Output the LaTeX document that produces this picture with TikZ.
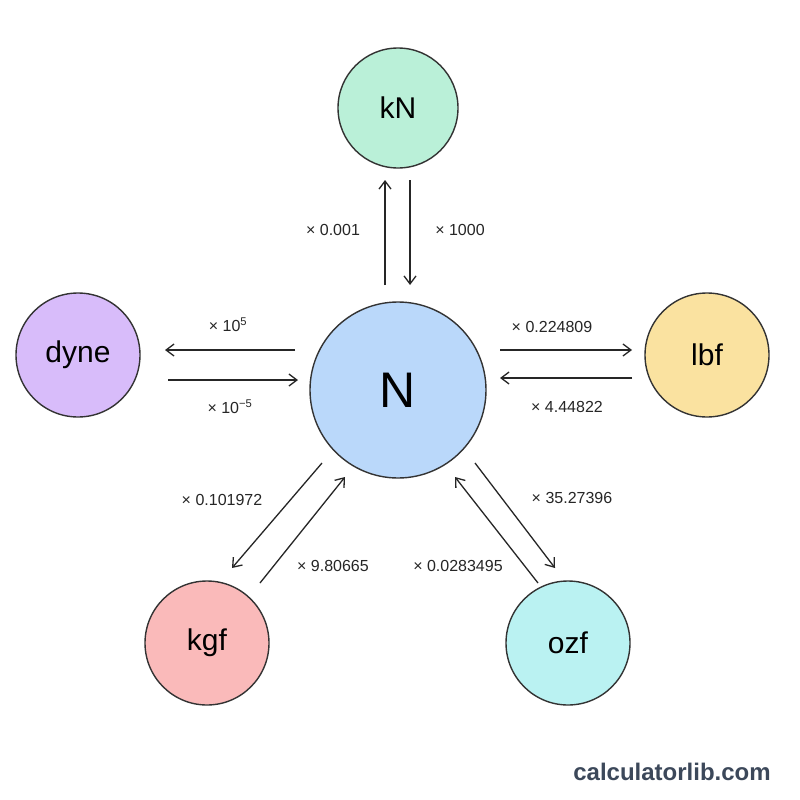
\documentclass[tikz,border=0pt]{standalone}
\usepackage{fontspec}
\setmainfont{Liberation Sans}
\usetikzlibrary{arrows.meta}
\begin{document}
\begin{tikzpicture}[x=1pt,y=-1pt,
  unit/.style={circle,draw=black!80,line width=1.4pt,inner sep=0pt},
  arr/.style={-{Straight Barb[length=8pt,width=12pt]},line width=1.3pt,black!85},
  lab/.style={font=\fontsize{16}{18}\selectfont,text=black!85}]
\useasboundingbox (0,0) rectangle (800,800);
\fill[white] (0,0) rectangle (800,800);
\node[unit,minimum size=176pt,font=\fontsize{50}{54}\selectfont,fill={rgb,255:red,186;green,216;blue,250}] (N) at (398,390) {N};
\node[unit,minimum size=120pt,font=\fontsize{30}{34}\selectfont,fill={rgb,255:red,186;green,240;blue,216}] (kN) at (398,108) {kN};
\node[unit,minimum size=124pt,font=\fontsize{30}{34}\selectfont,fill={rgb,255:red,216;green,188;blue,250}] (dyne) at (78,355) {dyne};
\node[unit,minimum size=124pt,font=\fontsize{30}{34}\selectfont,fill={rgb,255:red,250;green,226;blue,160}] (lbf) at (707,355) {lbf};
\node[unit,minimum size=124pt,font=\fontsize{30}{34}\selectfont,fill={rgb,255:red,250;green,186;blue,186}] (kgf) at (207,643) {kgf};
\node[unit,minimum size=124pt,font=\fontsize{30}{34}\selectfont,fill={rgb,255:red,186;green,242;blue,242}] (ozf) at (568,643) {ozf};
% kN
\coordinate (a1) at (385,285); \coordinate (a2) at (385,180);
\coordinate (b1) at (410,180); \coordinate (b2) at (410,285);
\draw[arr] (a1) -- (a2); \draw[arr] (b1) -- (b2);
\node[lab] (l1) at (333,230) {× 0.001};
\node[lab] (l2) at (460,230) {× 1000};
% dyne
\coordinate (c1) at (295,350); \coordinate (c2) at (165,350);
\coordinate (d1) at (168,380); \coordinate (d2) at (298,380);
\draw[arr] (c1) -- (c2); \draw[arr] (d1) -- (d2);
\node[lab] (l3) at (228,325) {× 10\textsuperscript{5}};
\node[lab] (l4) at (230,407) {× 10\textsuperscript{−5}};
% lbf
\coordinate (e1) at (500,350); \coordinate (e2) at (632,350);
\coordinate (f1) at (632,378); \coordinate (f2) at (500,378);
\draw[arr] (e1) -- (e2); \draw[arr] (f1) -- (f2);
\node[lab] (l5) at (552,327) {× 0.224809};
\node[lab] (l6) at (567,407) {× 4.44822};
% kgf
\coordinate (g1) at (322,463); \coordinate (g2) at (232,568);
\coordinate (h1) at (260,583); \coordinate (h2) at (345,477);
\draw[arr] (g1) -- (g2); \draw[arr] (h1) -- (h2);
\node[lab] (l7) at (222,500) {× 0.101972};
\node[lab] (l8) at (333,566) {× 9.80665};
% ozf
\coordinate (i1) at (475,463); \coordinate (i2) at (555,568);
\coordinate (j1) at (538,583); \coordinate (j2) at (455,477);
\draw[arr] (i1) -- (i2); \draw[arr] (j1) -- (j2);
\node[lab] (l9) at (572,498) {× 35.27396};
\node[lab] (l10) at (458,566) {× 0.0283495};
\node[font=\bfseries\fontsize{24}{28}\selectfont,text={rgb,255:red,60;green,72;blue,90}] (wm) at (672,772) {calculatorlib.com};
\end{tikzpicture}
\end{document}
